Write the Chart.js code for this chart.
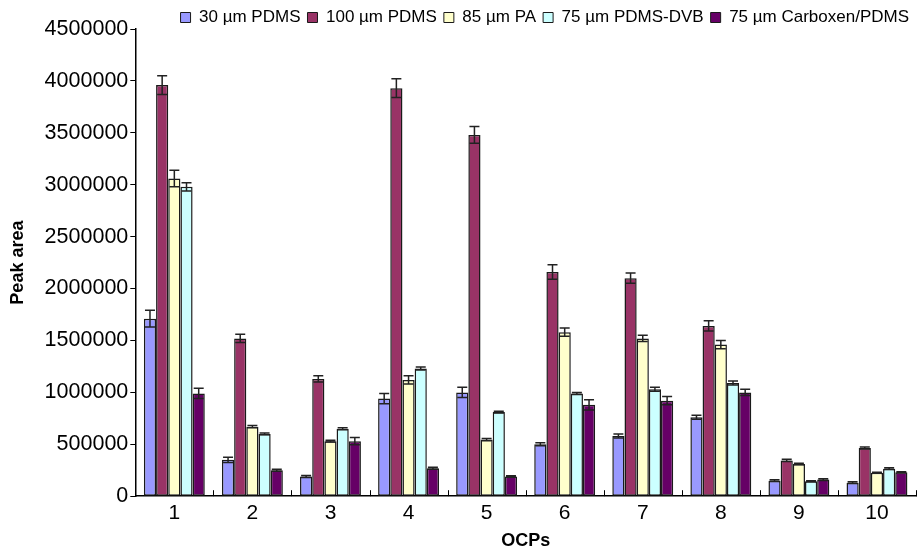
<!DOCTYPE html>
<html>
<head>
<meta charset="utf-8">
<script src="https://cdn.jsdelivr.net/npm/chart.js@4/dist/chart.umd.min.js"></script>
<style>
  body { margin: 0; background: #fff; }
  #wrap { width: 922px; height: 552px; }
</style>
</head>
<body>
<div id="wrap"><canvas id="peakChart" width="922" height="552"></canvas></div>
<script>
// chart data
const categories = ['1', '2', '3', '4', '5', '6', '7', '8', '9', '10'];
const yTicks = [0, 500000, 1000000, 1500000, 2000000, 2500000, 3000000, 3500000, 4000000, 4500000];

const pdms30 = [1710000, 350000, 190000, 940000, 1000000, 500000, 580000, 760000, 150000, 130000];
const pdms30Err = [80000, 25000, 10000, 50000, 50000, 15000, 20000, 20000, 8000, 8000];
const pdms100 = [3960000, 1520000, 1130000, 3930000, 3480000, 2160000, 2100000, 1640000, 345000, 465000];
const pdms100Err = [90000, 40000, 30000, 90000, 80000, 70000, 50000, 50000, 10000, 10000];
const pa85 = [3060000, 670000, 530000, 1120000, 545000, 1580000, 1520000, 1460000, 310000, 225000];
const pa85Err = [80000, 10000, 8000, 40000, 10000, 40000, 30000, 40000, 8000, 5000];
const pdmsDvb75 = [2980000, 600000, 650000, 1230000, 810000, 990000, 1030000, 1090000, 145000, 265000];
const pdmsDvb75Err = [40000, 8000, 10000, 15000, 8000, 10000, 20000, 20000, 5000, 8000];
const carboxen75 = [990000, 250000, 530000, 270000, 190000, 880000, 920000, 1000000, 160000, 230000];
const carboxen75Err = [50000, 10000, 35000, 10000, 8000, 50000, 40000, 30000, 8000, 5000];

const FONT = "'Liberation Sans', Arial, sans-serif";

function makeSet(label, data, errors, color) {
    return {
        label: label,
        data: data,
        errors: errors,
        backgroundColor: color,
        borderColor: '#1a1a1a',
        borderWidth: 1.5,
        borderSkipped: false,
        barPercentage: 1.0,
        categoryPercentage: 0.78
    };
}

// symmetric error bars with caps, positioned through the y scale
const errorBars = {
    id: 'errorBars',
    afterDatasetsDraw(chart) {
        const ctx = chart.ctx;
        const yScale = chart.scales.y;
        ctx.save();
        ctx.strokeStyle = '#222';
        ctx.lineWidth = 1.5;
        chart.data.datasets.forEach((ds, i) => {
            const meta = chart.getDatasetMeta(i);
            meta.data.forEach((bar, j) => {
                const v = ds.data[j];
                const e = ds.errors[j];
                const top = yScale.getPixelForValue(v + e);
                const bot = yScale.getPixelForValue(v - e);
                const cap = 5;
                ctx.beginPath();
                ctx.moveTo(bar.x, top);
                ctx.lineTo(bar.x, bot);
                ctx.moveTo(bar.x - cap, top);
                ctx.lineTo(bar.x + cap, top);
                ctx.moveTo(bar.x - cap, bot);
                ctx.lineTo(bar.x + cap, bot);
                ctx.stroke();
            });
        });
        ctx.restore();
    }
};

// small upward tick marks between categories on the x axis
const categoryTicks = {
    id: 'categoryTicks',
    afterDatasetsDraw(chart) {
        const ctx = chart.ctx;
        const xScale = chart.scales.x;
        const yBase = chart.scales.y.getPixelForValue(0);
        ctx.save();
        ctx.strokeStyle = '#000';
        ctx.lineWidth = 1;
        for (let k = 1; k <= categories.length; k++) {
            const x = Math.round(xScale.getPixelForValue(k - 0.5)) + 0.5;
            ctx.beginPath();
            ctx.moveTo(x, yBase);
            ctx.lineTo(x, yBase - 6);
            ctx.stroke();
        }
        ctx.restore();
    }
};

const ctx = document.getElementById('peakChart').getContext('2d');
const peakChart = new Chart(ctx, {
    type: 'bar',
    data: {
        labels: categories,
        datasets: [
            makeSet('30 \u00b5m PDMS', pdms30, pdms30Err, '#9999FF'),
            makeSet('100 \u00b5m PDMS', pdms100, pdms100Err, '#993366'),
            makeSet('85 \u00b5m PA', pa85, pa85Err, '#FFFFCC'),
            makeSet('75 \u00b5m PDMS-DVB', pdmsDvb75, pdmsDvb75Err, '#CCFFFF'),
            makeSet('75 \u00b5m Carboxen/PDMS', carboxen75, carboxen75Err, '#660066')
        ]
    },
    options: {
        responsive: false,
        animation: false,
        layout: { padding: { left: 0, right: 6, top: 2, bottom: 0 } },
        plugins: {
            tooltip: { enabled: false },
            legend: {
                position: 'top',
                align: 'end',
                maxHeight: 27,
                labels: {
                    color: '#000',
                    font: { family: FONT, size: 17 },
                    boxWidth: 10,
                    boxHeight: 10,
                    padding: 7,
                    generateLabels(chart) {
                        return chart.data.datasets.map((ds, i) => ({
                            text: ds.label,
                            fillStyle: ds.backgroundColor,
                            strokeStyle: '#1a1a1a',
                            lineWidth: 1,
                            datasetIndex: i
                        }));
                    }
                }
            }
        },
        scales: {
            x: {
                offset: true,
                grid: { display: false, drawTicks: false, tickLength: 0 },
                border: { display: true, color: '#000', width: 1.5 },
                ticks: { color: '#000', font: { family: FONT, size: 21 }, padding: 4 },
                title: {
                    display: true,
                    text: 'OCPs',
                    color: '#000',
                    font: { family: FONT, size: 18, weight: 'bold' },
                    padding: { top: 1, bottom: 0 }
                }
            },
            y: {
                min: 0,
                max: 4500000,
                afterBuildTicks(axis) {
                    axis.ticks = yTicks.map(v => ({ value: v }));
                },
                grid: {
                    drawOnChartArea: false,
                    drawTicks: true,
                    tickLength: 5,
                    color: '#000'
                },
                border: { display: true, color: '#000', width: 1.5 },
                ticks: {
                    color: '#000',
                    font: { family: FONT, size: 21.5 },
                    padding: 2,
                    callback: v => String(v)
                },
                title: {
                    display: true,
                    text: 'Peak area',
                    color: '#000',
                    font: { family: FONT, size: 18, weight: 'bold' },
                    padding: { top: 7, bottom: 14 }
                }
            }
        }
    },
    plugins: [errorBars, categoryTicks]
});
</script>
</body>
</html>
